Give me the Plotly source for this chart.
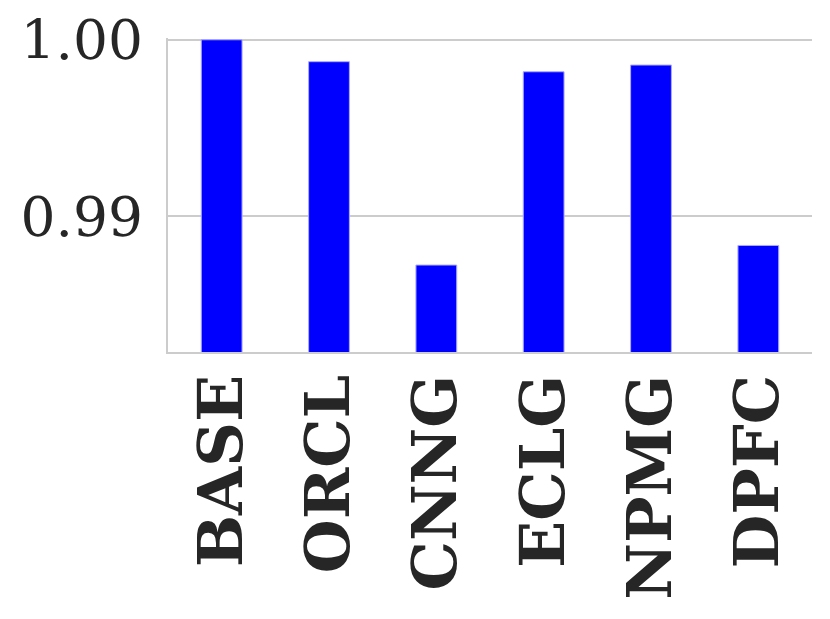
import plotly.graph_objects as go

# model names and their scores
models = ["BASE", "ORCL", "CNNG", "ECLG", "NPMG", "DPFC"]
scores = [1.0000, 0.99876, 0.98725, 0.99819, 0.99857, 0.98836]

y_ticks = [0.99, 1.00]
y_tick_text = ["0.99", "1.00"]

fig = go.Figure()

fig.add_trace(go.Bar(
    x=models,
    y=scores,
    marker_color="#0000ff",
    marker_line_color="rgba(170,170,255,1)",
    marker_line_width=1,
    width=0.38,
))

# page body adds an 8px offset, so the figure is a bit smaller
fig.update_layout(
    width=822,
    height=611,
    margin=dict(l=160, r=18, t=30, b=267),
    plot_bgcolor="white",
    paper_bgcolor="white",
    showlegend=False,
    font=dict(family="DejaVu Serif", color="#262626"),
)

fig.update_yaxes(
    range=[0.98233, 1.0001],
    tickvals=y_ticks,
    ticktext=y_tick_text,
    tickfont=dict(size=55, family="DejaVu Serif", color="#262626"),
    showgrid=True,
    gridcolor="#cccccc",
    gridwidth=2,
    showline=True,
    linecolor="#cccccc",
    linewidth=2,
    ticks="",
    ticklabelstandoff=12,
    zeroline=False,
    automargin=False,
)

fig.update_xaxes(
    tickangle=-90,
    tickfont=dict(size=62, family="DejaVu Serif", color="#262626", weight="bold"),
    showgrid=False,
    showline=True,
    linecolor="#cccccc",
    linewidth=2,
    ticks="",
    ticklabelstandoff=-4,
    automargin=False,
)

fig.write_html("out.html")
